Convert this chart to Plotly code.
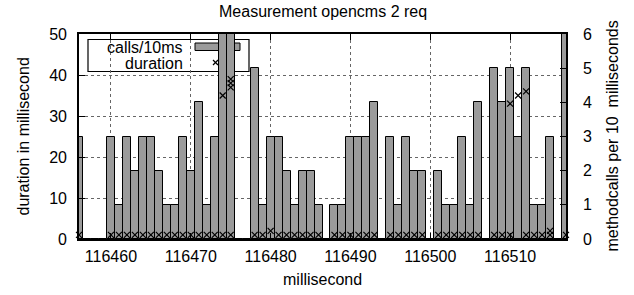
import plotly.graph_objects as go

# ---- data ----
ms = [116456, 116457, 116458, 116459, 116460, 116461, 116462, 116463, 116464, 116465,
      116466, 116467, 116468, 116469, 116470, 116471, 116472, 116473, 116474, 116475,
      116476, 116477, 116478, 116479, 116480, 116481, 116482, 116483, 116484, 116485,
      116486, 116487, 116488, 116489, 116490, 116491, 116492, 116493, 116494, 116495,
      116496, 116497, 116498, 116499, 116500, 116501, 116502, 116503, 116504, 116505,
      116506, 116507, 116508, 116509, 116510, 116511, 116512, 116513, 116514, 116515,
      116516, 116517]
calls = [3, 0, 0, 0, 3, 1, 3, 2, 3, 3,
         2, 1, 1, 3, 2, 4, 1, 3, 7, 7,
         0, 0, 5, 1, 3, 3, 2, 1, 2, 2,
         1, 0, 1, 1, 3, 3, 3, 4, 0, 3,
         1, 3, 2, 2, 0, 2, 1, 1, 3, 1,
         4, 0, 5, 4, 5, 3, 5, 1, 1, 3,
         0, 7]

dur_ms = [116456, 116460, 116461, 116462, 116463, 116464, 116465, 116466, 116467, 116468,
          116469, 116470, 116471, 116472, 116473, 116474, 116474, 116475, 116475, 116475,
          116475, 116478, 116479, 116480, 116481, 116482, 116483, 116484, 116485, 116486,
          116488, 116489, 116490, 116491, 116492, 116493, 116495, 116496, 116497, 116498,
          116499, 116501, 116502, 116503, 116504, 116505, 116506, 116508, 116509, 116510,
          116510, 116511, 116512, 116512, 116513, 116514, 116515, 116515, 116517]
dur_val = [1, 1, 1, 1, 1, 1, 1, 1, 1, 1,
           1, 1, 1, 1, 1, 1, 35, 1, 37, 38,
           39, 1, 1, 2, 1, 1, 1, 1, 1, 1,
           1, 1, 1, 1, 1, 1, 1, 1, 1, 1,
           1, 1, 1, 1, 1, 1, 1, 1, 1, 1,
           33, 35, 1, 36, 1, 1, 1, 2, 1]

x_ticks = [116460, 116470, 116480, 116490, 116500, 116510]
y_ticks = [0, 10, 20, 30, 40, 50]
y2_ticks = [0, 1, 2, 3, 4, 5, 6]

FONT = "Liberation Sans, Arial, sans-serif"
FS = 16

fig = go.Figure()
# bars on the primary (right-side) axis, duration markers on the overlaying left axis (drawn on top)
fig.add_trace(go.Bar(x=ms, y=calls, yaxis="y", name="calls/10ms",
                     marker=dict(color="#9b9b9b", line=dict(color="#000000", width=1)),
                     width=1.0, showlegend=False))
fig.add_trace(go.Scatter(x=dur_ms, y=dur_val, mode="markers", name="duration", yaxis="y2",
                         marker=dict(symbol="x-thin", size=6, color="black",
                                     line=dict(color="black", width=1.2)),
                         cliponaxis=False, showlegend=False))

# plot-area geometry (pixels)
L, R, T, B = 79, 566, 34, 239
W, H = R - L, B - T
def px(x):
    return (x - L) / W
def py(y):
    return (B - y) / H

shapes = [
    dict(type="rect", xref="paper", yref="paper", x0=px(88), x1=px(249), y0=py(71.5), y1=py(39.5),
         line=dict(color="black", width=1.2), fillcolor="white", layer="between"),
    dict(type="rect", xref="paper", yref="paper", x0=px(195), x1=px(240), y0=py(50.5), y1=py(43),
         line=dict(color="black", width=1), fillcolor="#9b9b9b", layer="between"),
    dict(type="line", xref="paper", yref="paper", x0=px(213), x1=px(218), y0=py(60), y1=py(65),
         line=dict(color="black", width=1.2), layer="above"),
    dict(type="line", xref="paper", yref="paper", x0=px(213), x1=px(218), y0=py(65), y1=py(60),
         line=dict(color="black", width=1.2), layer="above"),
]

annotations = [
    dict(text="calls/10ms", xref="paper", yref="paper", x=px(185), y=py(47.5),
         xanchor="right", yanchor="middle", showarrow=False, font=dict(family=FONT, size=FS, color="black")),
    dict(text="duration", xref="paper", yref="paper", x=px(185), y=py(63),
         xanchor="right", yanchor="middle", showarrow=False, font=dict(family=FONT, size=FS, color="black")),
    dict(text="millisecond", xref="paper", yref="paper", x=0.5, y=py(279),
         xanchor="center", yanchor="middle", showarrow=False, font=dict(family=FONT, size=FS, color="black")),
    dict(text="duration in millisecond", xref="paper", yref="paper", x=px(23), y=0.5, textangle=-90,
         xanchor="center", yanchor="middle", showarrow=False, font=dict(family=FONT, size=FS, color="black")),
    dict(text="methodcalls per 10\u00a0\u00a0milliseconds", xref="paper", yref="paper", x=px(612), y=0.5,
         textangle=-90, xanchor="center", yanchor="middle", showarrow=False,
         font=dict(family=FONT, size=FS, color="black")),
    dict(text="Measurement opencms 2 req", xref="paper", yref="paper", x=0.5, y=py(12),
         xanchor="center", yanchor="middle", showarrow=False, font=dict(family=FONT, size=FS, color="black")),
]

fig.update_layout(
    width=634, height=295,
    margin=dict(l=L, r=634 - R, t=T, b=295 - B, pad=0, autoexpand=False),
    paper_bgcolor="white", plot_bgcolor="white",
    bargap=0,
    font=dict(family=FONT, size=FS, color="black"),
    shapes=shapes, annotations=annotations,
    xaxis=dict(range=[116456, 116517], tickvals=x_ticks, ticktext=[str(v) for v in x_ticks],
               ticks="inside", ticklen=6, tickcolor="black", tickwidth=1,
               showline=True, linecolor="black", linewidth=1.5, mirror="ticks",
               showgrid=True, gridcolor="#666666", griddash="dot", gridwidth=1,
               zeroline=False, ticklabelstandoff=2),
    # calls axis (right side)
    yaxis=dict(range=[0, 6], tickvals=y2_ticks, side="right",
               ticks="inside", ticklen=6, tickcolor="black", tickwidth=1,
               showline=True, linecolor="black", linewidth=1.5, mirror=True,
               showgrid=False, zeroline=False, ticklabelstandoff=12),
    # duration axis (left side), overlaying
    yaxis2=dict(range=[0, 50], tickvals=y_ticks, overlaying="y", side="left",
                ticks="inside", ticklen=6, tickcolor="black", tickwidth=1,
                showline=False,
                showgrid=True, gridcolor="#666666", griddash="dot", gridwidth=1,
                zeroline=False, ticklabelstandoff=11),
)

fig.write_html("out.html", config={"displayModeBar": False},
               post_script="document.body.style.margin='0';document.body.style.overflow='hidden';")
